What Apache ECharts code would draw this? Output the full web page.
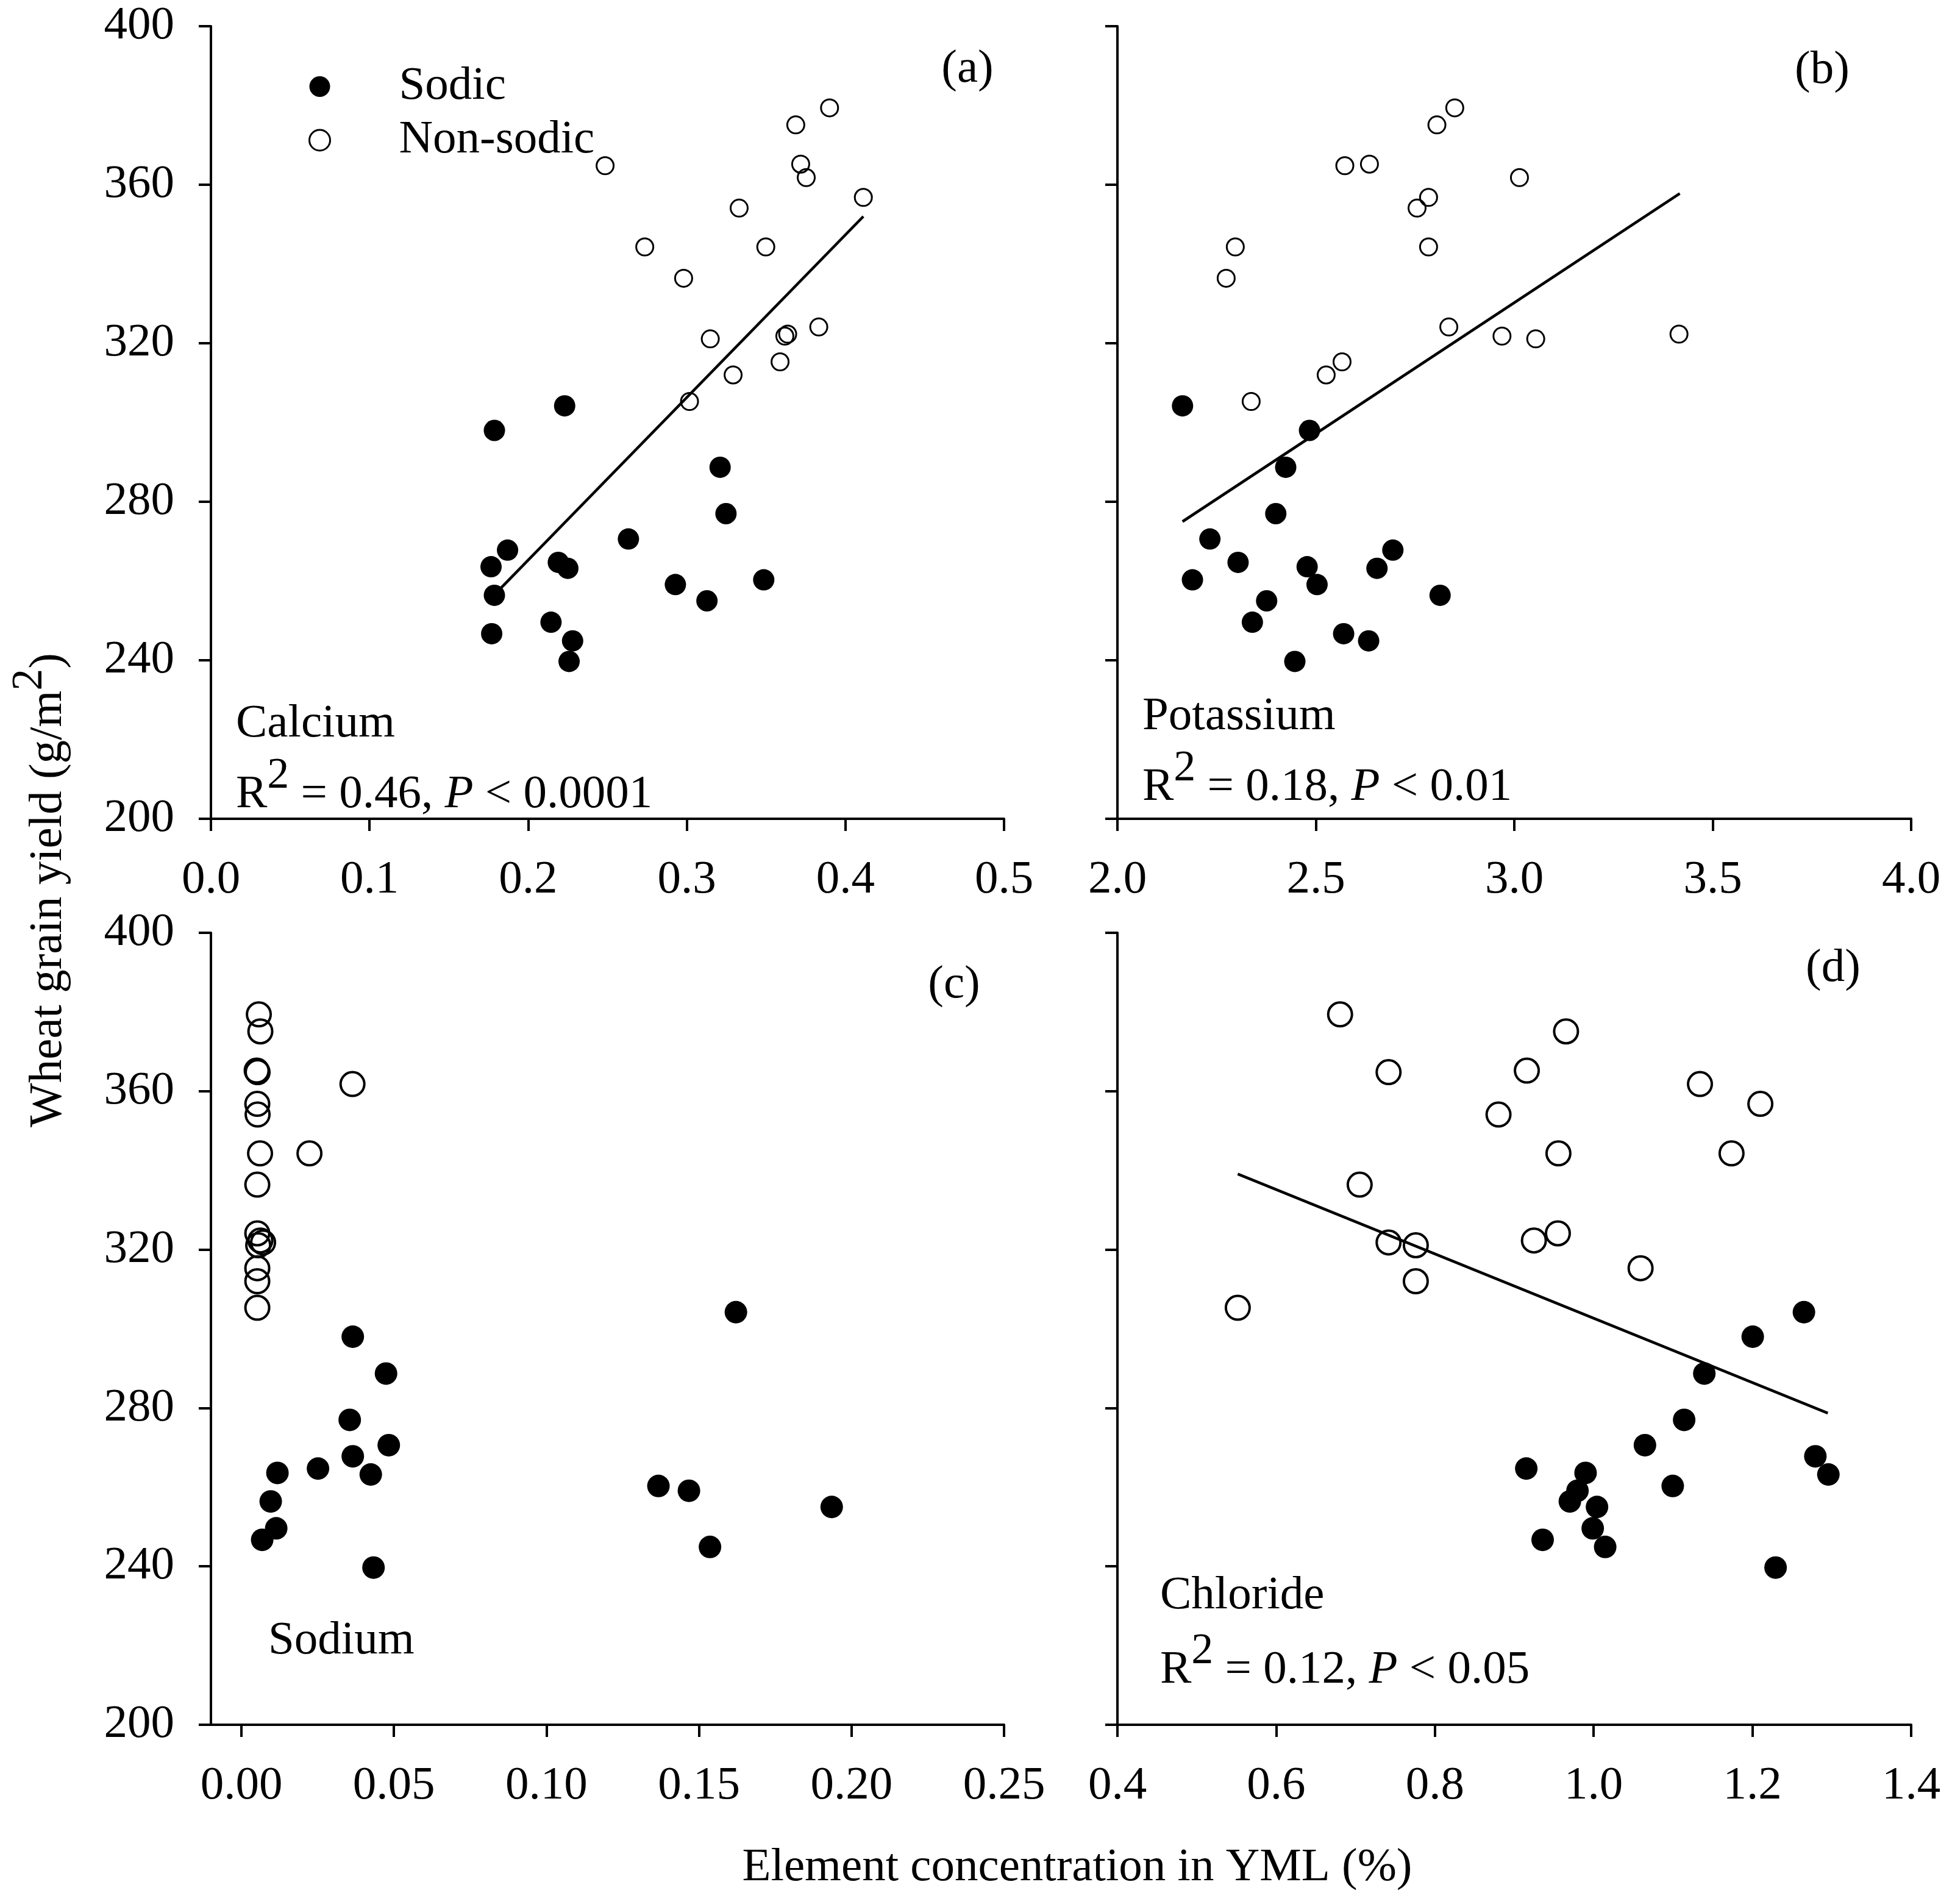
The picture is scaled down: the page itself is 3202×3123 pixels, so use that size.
<!DOCTYPE html>
<html>
<head>
<meta charset="utf-8">
<script src="https://cdn.jsdelivr.net/npm/echarts@6/dist/echarts.min.js"></script>
<style>
html,body{margin:0;padding:0;background:#fff;}
#chart{width:3202px;height:3123px;}
</style>
</head>
<body>
<div id="chart"></div>
<script>
// Yields (g/m2), shared by all panels
var yieldSodic = [304.2, 298.0, 288.7, 277.0, 270.6, 267.8, 264.7, 263.6, 263.2, 260.3, 259.1, 256.4, 255.0, 249.6, 246.7, 244.9, 239.7];
var yieldNonSodic = [379.4, 375.1, 365.2, 364.8, 361.8, 356.8, 354.1, 344.3, 344.3, 336.4, 324.1, 322.3, 321.8, 321.1, 315.3, 312.0, 305.3];

// Element concentrations (%) in the same order
var caSodic = [0.223, 0.1787, 0.321, 0.3247, 0.2632, 0.187, 0.219, 0.1766, 0.225, 0.3485, 0.2928, 0.1787, 0.3127, 0.2144, 0.177, 0.228, 0.2258];
var caNonSodic = [0.390, 0.3687, 0.3718, 0.2485, 0.3753, 0.4113, 0.333, 0.2735, 0.3498, 0.298, 0.3832, 0.3636, 0.3618, 0.3148, 0.3588, 0.3292, 0.3017];

var kSodic = [2.164, 2.484, 2.424, 2.399, 2.233, 2.694, 2.304, 2.478, 2.654, 2.189, 2.503, 2.813, 2.376, 2.340, 2.570, 2.633, 2.447];
var kNonSodic = [2.850, 2.805, 2.635, 2.573, 3.013, 2.784, 2.755, 2.297, 2.784, 2.274, 2.835, 3.415, 2.969, 3.054, 2.566, 2.526, 2.337];

var naSodic = [0.1621, 0.0365, 0.0474, 0.0355, 0.0483, 0.0365, 0.0251, 0.0118, 0.0424, 0.1367, 0.1467, 0.0096, 0.1935, 0.0114, 0.0068, 0.1536, 0.0433];
var naNonSodic = [0.0057, 0.0062, 0.0050, 0.0053, 0.0364, 0.0052, 0.0053, 0.0061, 0.0223, 0.0052, 0.0052, 0.0062, 0.0071, 0.0055, 0.0052, 0.0052, 0.0052];

var clSodic = [1.2649, 1.2004, 1.1394, 1.114, 1.0646, 1.2793, 0.9151, 0.9898, 1.2957, 1.0996, 0.9796, 0.9700, 1.0042, 0.9988, 0.9357, 1.0145, 1.2292];
var clNonSodic = [0.6805, 0.9652, 0.9158, 0.7416, 1.1339, 1.21, 0.8801, 0.9556, 1.1737, 0.7052, 0.9549, 0.9247, 0.7416, 0.7759, 1.0591, 0.7759, 0.5516];

// Regression line end points
var fitCa = [[0.1825, 258.1], [0.4113, 352.0]];
var fitK = [[2.164, 275.0], [3.417, 357.8]];
var fitCl = [[0.5516, 339.1], [1.295, 278.7]];

// Tick values
var yTicks = [200, 240, 280, 320, 360, 400];
var naTicks = [0, 0.05, 0.10, 0.15, 0.20, 0.25];

function pairs(xs, ys) { return xs.map(function (x, i) { return [x, ys[i]]; }); }

var FONT = 'Liberation Serif, Times New Roman, serif';
var FS = 77;

var grids = [
  {left: 346, top: 43, width: 1301, height: 1300},
  {left: 1833, top: 43, width: 1302, height: 1300},
  {left: 346, top: 1530, width: 1301, height: 1299},
  {left: 1833, top: 1530, width: 1302, height: 1299}
];

function xAx(idx, min, max, interval, digits, custom) {
  var ax = {
    type: 'value', gridIndex: idx, min: min, max: max,
    axisLine: {show: true, onZero: false, lineStyle: {color: '#000', width: 4}},
    axisTick: {show: true, inside: false, length: 20, lineStyle: {color: '#000', width: 4}},
    axisLabel: {show: true, margin: 62, color: '#000', fontFamily: FONT, fontSize: FS,
      formatter: function (v) { return Number(v).toFixed(digits); }},
    splitLine: {show: false}
  };
  if (custom) {
    ax.axisTick.customValues = custom;
    ax.axisLabel.customValues = custom;
  } else {
    ax.interval = interval;
  }
  return ax;
}
function yAx(idx, showLabel) {
  return {
    type: 'value', gridIndex: idx, min: 200, max: 400, interval: 40,
    axisLine: {show: true, onZero: false, lineStyle: {color: '#000', width: 4}},
    axisTick: {show: true, inside: false, length: 20, lineStyle: {color: '#000', width: 4}},
    axisLabel: {show: showLabel, margin: 60, color: '#000', fontFamily: FONT, fontSize: FS},
    splitLine: {show: false}
  };
}

function sodic(idx, xs, size) {
  return {name: 'Sodic', type: 'scatter', xAxisIndex: idx, yAxisIndex: idx, data: pairs(xs, yieldSodic),
    symbol: 'circle', symbolSize: size, itemStyle: {color: '#000', opacity: 1}, z: 3, silent: true};
}
function nonSodic(idx, xs, size, bw) {
  return {name: 'Non-sodic', type: 'scatter', xAxisIndex: idx, yAxisIndex: idx, data: pairs(xs, yieldNonSodic),
    symbol: 'circle', symbolSize: size, itemStyle: {color: 'rgba(0,0,0,0)', borderColor: '#000', borderWidth: bw, opacity: 1}, z: 3, silent: true};
}
function fit(idx, d) {
  return {type: 'line', xAxisIndex: idx, yAxisIndex: idx, data: d, symbol: 'none',
    lineStyle: {color: '#000', width: 4.5}, z: 2, silent: true, animation: false};
}

function txt(x, y, text, align) {
  return {type: 'text', x: x, y: y, silent: true,
    style: {text: text, fill: '#000', fontFamily: FONT, fontSize: FS, align: align || 'left', verticalAlign: 'middle'}};
}
function rtxt(x, y, r2, p) {
  return {type: 'text', x: x, y: y, silent: true,
    style: {
      text: '{t|R}{s|2}{t| = ' + r2 + ', }{i|P}{t| < ' + p + '}',
      align: 'left', verticalAlign: 'middle',
      rich: {
        t: {fontFamily: FONT, fontSize: FS, fill: '#000', verticalAlign: 'middle'},
        i: {fontFamily: FONT, fontSize: FS, fontStyle: 'italic', fill: '#000', verticalAlign: 'middle'},
        s: {fontFamily: FONT, fontSize: 72, fill: '#000', verticalAlign: 'middle', padding: [0, 0, 62, 0]}
      }
    }};
}

var option = {
  animation: false,
  backgroundColor: '#fff',
  grid: grids,
  xAxis: [
    xAx(0, 0, 0.5, 0.1, 1),
    xAx(1, 2.0, 4.0, 0.5, 1),
    xAx(2, -0.01, 0.25, null, 2, naTicks),
    xAx(3, 0.4, 1.4, 0.2, 1)
  ],
  yAxis: [yAx(0, true), yAx(1, false), yAx(2, true), yAx(3, false)],
  legend: {
    orient: 'vertical', left: 501, top: 98, itemWidth: 34, itemHeight: 34, itemGap: 10,
    selectedMode: false,
    textStyle: {fontFamily: FONT, fontSize: FS, color: '#000', lineHeight: 78, padding: [0, 0, 0, 108]},
    data: [
      {name: 'Sodic', icon: 'circle', itemStyle: {color: '#000', borderWidth: 0}},
      {name: 'Non-sodic', icon: 'circle', itemStyle: {color: 'rgba(0,0,0,0)', borderColor: '#000', borderWidth: 3}}
    ]
  },
  series: [
    fit(0, fitCa), sodic(0, caSodic, 35), nonSodic(0, caNonSodic, 28, 3),
    fit(1, fitK), sodic(1, kSodic, 35), nonSodic(1, kNonSodic, 28, 3),
    sodic(2, naSodic, 37), nonSodic(2, naNonSodic, 39, 4),
    fit(3, fitCl), sodic(3, clSodic, 37), nonSodic(3, clNonSodic, 39, 4)
  ],
  graphic: [
    txt(1587, 114, '(a)', 'center'),
    txt(2989, 116, '(b)', 'center'),
    txt(1565, 1616, '(c)', 'center'),
    txt(3007, 1589, '(d)', 'center'),
    txt(387, 1188, 'Calcium'),
    rtxt(387, 1304, '0.46', '0.0001'),
    txt(1874, 1176, 'Potassium'),
    rtxt(1874, 1292, '0.18', '0.01'),
    txt(440, 2692, 'Sodium'),
    txt(1903, 2618, 'Chloride'),
    rtxt(1903, 2740, '0.12', '0.05'),
    txt(1767, 3064, 'Element concentration in YML (%)', 'center'),
    {type: 'text', x: 80, y: 1460, rotation: Math.PI / 2, silent: true,
      style: {text: '{t|Wheat grain yield (g/m}{s|2}{t|)}', align: 'center', verticalAlign: 'middle',
        rich: {
          t: {fontFamily: FONT, fontSize: FS, fill: '#000', verticalAlign: 'middle'},
          s: {fontFamily: FONT, fontSize: 72, fill: '#000', verticalAlign: 'middle', padding: [0, 0, 62, 0]}
        }}}
  ]
};

var chart = echarts.init(document.getElementById('chart'), null, {renderer: 'canvas'});
chart.setOption(option);
</script>
</body>
</html>
